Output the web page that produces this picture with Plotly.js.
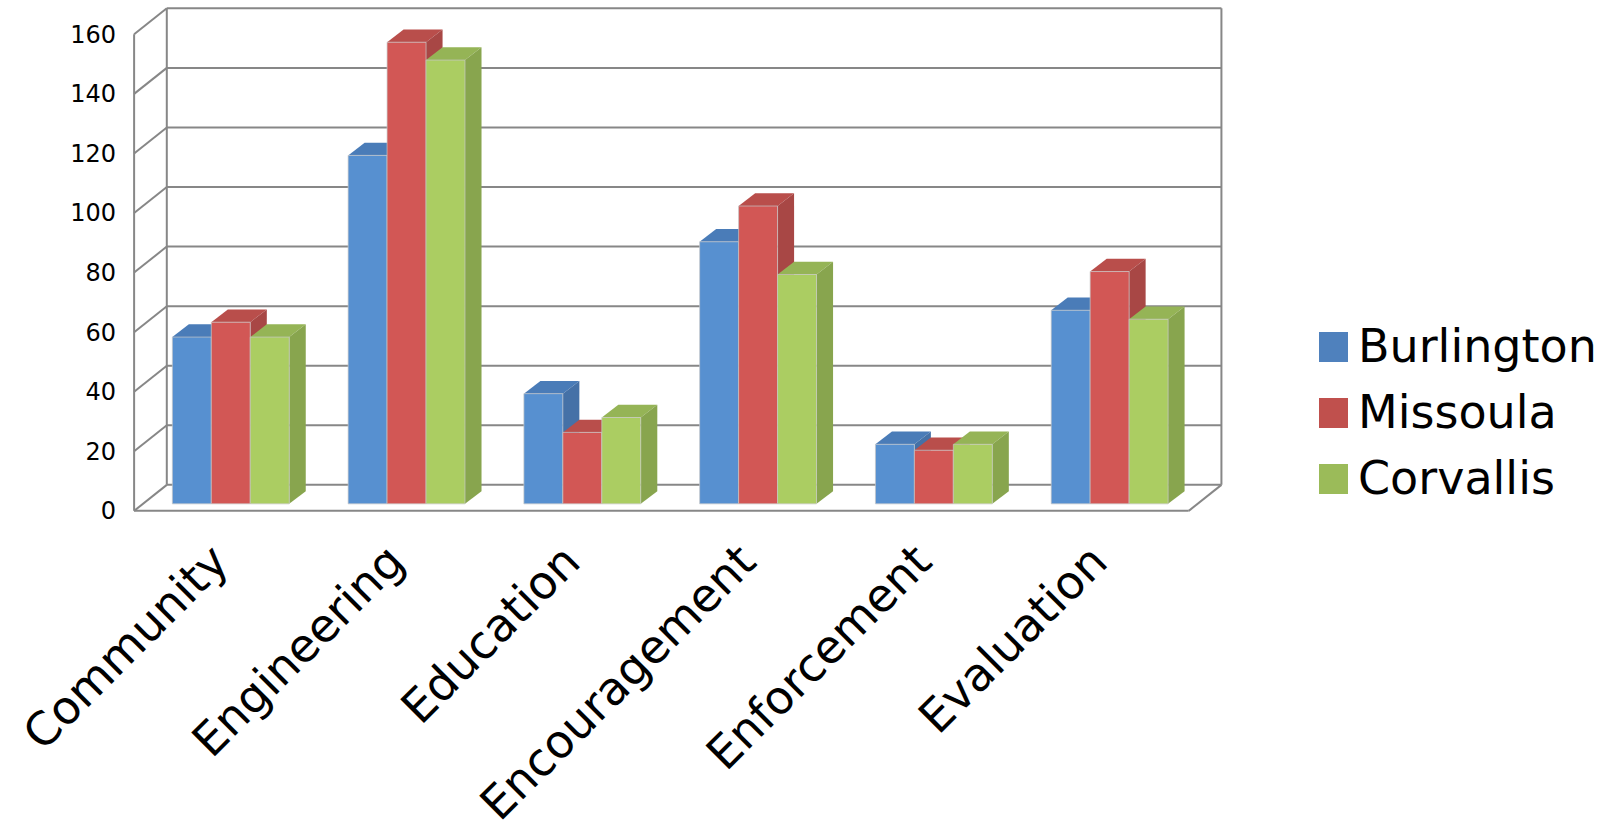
<!DOCTYPE html>
<html><head><meta charset="utf-8">
<script src="https://cdn.plot.ly/plotly-3.0.1.min.js"></script>
<style>html,body{margin:0;padding:0;background:#fff;}#chart{width:1620px;height:824px;}</style>
</head><body><div id="chart"></div>
<script>
// ---- data ----
const categories = ['Community', 'Engineering', 'Education', 'Encouragement', 'Enforcement', 'Evaluation'];
const seriesNames = ['Burlington', 'Missoula', 'Corvallis'];
const burlington = [56, 117, 37, 88, 20, 65];
const missoula   = [61, 155, 24, 100, 18, 78];
const corvallis  = [56, 149, 29, 77, 20, 62];
const yTicks = [0, 20, 40, 60, 80, 100, 120, 140, 160];

// ---- styles ----
const frontColors  = ['#5790d0', '#d25755', '#abcd62'];
const topColors    = ['#4a7cb8', '#b94e4b', '#95b456'];
const sideColors   = ['#4571a7', '#a84745', '#88a54e'];
const legendColors = ['#4f81bd', '#c0504d', '#9bbb59'];
const FONT = 'DejaVu Sans';

const series = [burlington, missoula, corvallis];
const xIdx = categories.map((c, i) => i);
const BARGAP = 0.335;
const barW = (1 - BARGAP) / series.length;
// 3D depth offsets in axis units
const bdx = 0.094, bdy = 4.27;           // bar depth
const front = {dx: -0.05, dy: -2.35};    // front plane of the box
const back  = {dx: 0.136, dy: 6.38};     // back wall
const xL = -0.5, xR = categories.length - 0.5;

// layout geometry (pixels)
const ML = 132, MR = 397, MT = 2, MB = 310, W = 1620, H = 824;
const PW = W - ML - MR, PH = H - MT - MB;
const px2x = p => (p - ML) / PW;
const px2y = p => (H - MB - p) / PH;

const shapes = [];
const wallLine = {color: '#878787', width: 2};
function seg(x0, y0, x1, y1) {
  shapes.push({type: 'line', xref: 'x', yref: 'y', layer: 'below', x0, y0, x1, y1, line: wallLine});
}
const yTop = yTicks[yTicks.length - 1];
yTicks.forEach(v => {
  seg(xL + back.dx, v + back.dy, xR + back.dx, v + back.dy);
  seg(xL + front.dx, v + front.dy, xL + back.dx, v + back.dy);
});
seg(xL + back.dx, back.dy, xL + back.dx, yTop + back.dy);
seg(xR + back.dx, back.dy, xR + back.dx, yTop + back.dy);
seg(xL + front.dx, front.dy, xL + front.dx, yTop + front.dy);
seg(xL + front.dx, front.dy, xR + front.dx, front.dy);
seg(xR + front.dx, front.dy, xR + back.dx, back.dy);

// top and side faces of the bars, derived from the values
series.forEach((vals, j) => {
  vals.forEach((v, i) => {
    const L = i - (1 - BARGAP) / 2 + j * barW, R = L + barW;
    shapes.push({type: 'path', xref: 'x', yref: 'y', layer: 'below',
      path: `M${L},${v}L${R},${v}L${R + bdx},${v + bdy}L${L + bdx},${v + bdy}Z`,
      fillcolor: topColors[j], line: {width: 0}});
    shapes.push({type: 'path', xref: 'x', yref: 'y', layer: 'below',
      path: `M${R},0L${R},${v}L${R + bdx},${v + bdy}L${R + bdx},${bdy}Z`,
      fillcolor: sideColors[j], line: {width: 0}});
  });
});

// custom legend
const annotations = [];
seriesNames.forEach((name, j) => {
  const top = 332 + 66 * j;
  shapes.push({type: 'rect', xref: 'paper', yref: 'paper',
    x0: px2x(1319), x1: px2x(1348), y0: px2y(top), y1: px2y(top + 30),
    fillcolor: legendColors[j], line: {width: 0}});
  annotations.push({xref: 'paper', yref: 'paper', x: px2x(1356), y: px2y(top + 14),
    xanchor: 'left', yanchor: 'middle', text: name, showarrow: false,
    font: {family: FONT, size: 46, color: '#000'}});
});

const traces = series.map((vals, j) => ({
  type: 'bar', name: seriesNames[j], x: xIdx, y: vals,
  marker: {color: frontColors[j], line: {color: 'rgba(200,200,200,0.7)', width: 1}},
  showlegend: false
}));

const layout = {
  width: W, height: H,
  margin: {l: ML, r: MR, t: MT, b: MB, pad: 0},
  paper_bgcolor: '#fff', plot_bgcolor: 'rgba(0,0,0,0)',
  barmode: 'group', bargap: BARGAP, bargroupgap: 0,
  showlegend: false,
  font: {family: FONT, color: '#000'},
  xaxis: {range: [-0.562, 5.645], tickmode: 'array', tickvals: xIdx, ticktext: categories,
    tickangle: -45, showgrid: false, zeroline: false, showline: false, ticks: '',
    ticklabelshift: -16, ticklabelstandoff: 10,
    tickfont: {family: FONT, size: 46, color: '#000'}, fixedrange: true},
  yaxis: {range: [-3.4, 168.5], tickmode: 'array', tickvals: yTicks,
    showgrid: false, zeroline: false, showline: false, ticks: '',
    ticklabelstandoff: 15, ticklabelshift: 7,
    tickfont: {family: FONT, size: 24, color: '#000'}, fixedrange: true},
  shapes: shapes,
  annotations: annotations
};

Plotly.newPlot('chart', traces, layout, {displayModeBar: false, staticPlot: true});
</script>
</body></html>
